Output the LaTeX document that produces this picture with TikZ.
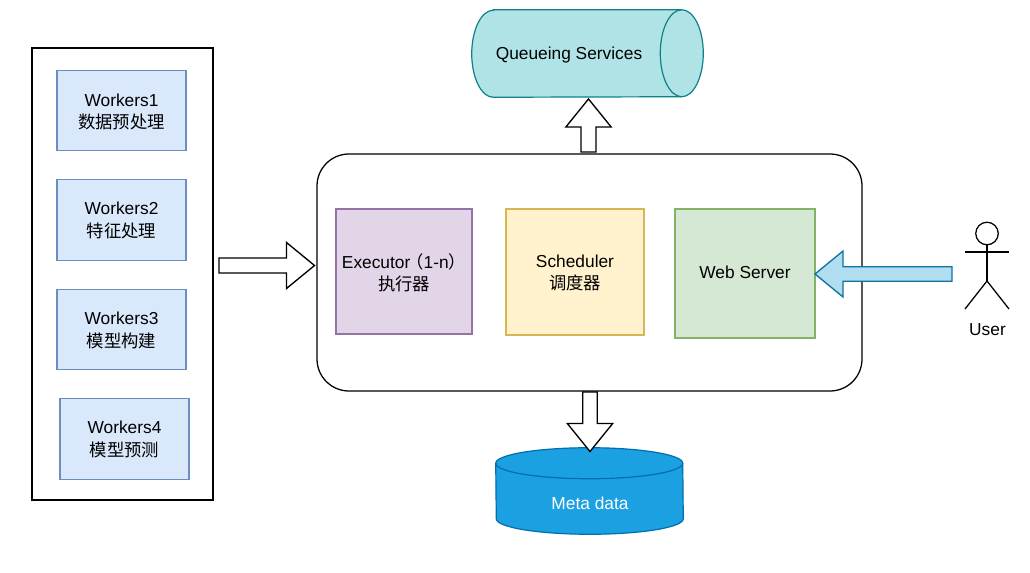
\documentclass[tikz,border=0pt]{standalone}
\usepackage{fontspec}
\setmainfont{Liberation Sans}
\newfontfamily\cjk{Noto Sans CJK SC}
\usetikzlibrary{calc}
\definecolor{wf}{HTML}{DAE8FC}\definecolor{ws}{HTML}{6C8EBF}
\definecolor{ef}{HTML}{E1D5E7}\definecolor{es}{HTML}{9673A6}
\definecolor{sf}{HTML}{FFF2CC}\definecolor{ss}{HTML}{D6B656}
\definecolor{gf}{HTML}{D5E8D4}\definecolor{gs}{HTML}{82B366}
\definecolor{qf}{HTML}{B0E3E6}\definecolor{qs}{HTML}{0E8088}
\definecolor{mf}{HTML}{1BA1E2}\definecolor{ms}{HTML}{006EAF}
\definecolor{uf}{HTML}{B1DDF0}\definecolor{us}{HTML}{10739E}
% [style]{from}{to}{half shaft}{half head}{head length}
\newcommand{\blockarrow}[6][]{%
  \coordinate (hb) at ($(#3)!#6!(#2)$);
  \draw[blockline,#1]
    ($(#2)!#4!90:(#3)$) -- ($(hb)!#4!90:(#3)$) --
    ($(hb)!#5!90:(#3)$) -- (#3) --
    ($(hb)!#5!-90:(#3)$) -- ($(hb)!#4!-90:(#3)$) --
    ($(#2)!#4!-90:(#3)$) -- cycle;}
\tikzset{
  x=0.75pt,y=-0.75pt,
  lbl/.style={font=\fontsize{13}{16.9}\selectfont,align=center,text=black,inner sep=0pt},
  box/.style={draw=#1,line width=0.9pt,anchor=center,inner sep=0pt},
  workerbox/.style={box=ws,fill=wf,minimum width=96.75pt,minimum height=60.4pt},
  workerlabel/.style={lbl},
  blockline/.style={draw=black,fill=white,line width=1pt,line join=miter},
  stick/.style={draw=black,line width=0.95pt}
}
\begin{document}
\begin{tikzpicture}
\useasboundingbox (0,0) rectangle (1030,573);
\fill[white] (0,0) rectangle (1030,573);
% worker container
\node[draw=black,line width=0.95pt,minimum width=135.75pt,minimum height=339pt,inner sep=0pt] (workers) at (122.5,274) {};
\node[workerbox] (w1) at (121.5,110.5) {};
\node[workerbox] (w2) at (121.5,220) {};
\node[workerbox] (w3) at (121.5,329.5) {};
\node[workerbox] (w4) at (124.5,439) {};
\node[workerlabel] (w1t) at (121.5,112) {Workers1\\{\cjk 数据预处理}};
\node[workerlabel] (w2t) at (121.5,220.5) {Workers2\\{\cjk 特征处理}};
\node[workerlabel] (w3t) at (121.5,330.5) {Workers3\\{\cjk 模型构建}};
\node[workerlabel] (w4t) at (124.5,439.5) {Workers4\\{\cjk 模型预测}};
% main box
\node[draw=black,line width=0.95pt,fill=white,rounded corners=24pt,minimum width=408.75pt,minimum height=177.75pt,inner sep=0pt] (main) at (589.5,272.5) {};
\node[box=es,fill=ef,minimum width=102pt,minimum height=93.75pt] (exec) at (404,271.5) {};
\node[lbl] (execlabel) at (404,273) {Executor\kern-3pt{\cjk （}1-n{\cjk ）}\hspace{3pt}\\{\cjk 执行器}};
\node[box=ss,fill=sf,minimum width=103.5pt,minimum height=94.5pt] (sched) at (575,272) {};
\node[lbl] (schedlabel) at (575,273) {Scheduler\\{\cjk 调度器}};
\node[box=gs,fill=gf,minimum width=105pt,minimum height=96.75pt] (web) at (745,273.5) {};
\node[lbl] (weblabel) at (745,272.5) {Web Server};
% queue cylinder
\node[minimum width=173.25pt,minimum height=65.25pt,inner sep=0pt] (queue) at (587.5,53.5) {};
\path[draw=qs,fill=qf,line width=0.9pt]
  ([xshift=21.5*0.75pt]queue.north west) -- ([xshift=-21.5*0.75pt]queue.north east)
  arc[start angle=90,end angle=-90,x radius=21.5*0.75pt,y radius=43.5*0.75pt]
  -- ([xshift=21.5*0.75pt]queue.south west)
  arc[start angle=-90,end angle=-270,x radius=21.5*0.75pt,y radius=43.5*0.75pt] -- cycle;
\draw[draw=qs,line width=0.9pt] ([xshift=-21.5*0.75pt]queue.north east)
  arc[start angle=90,end angle=270,x radius=21.5*0.75pt,y radius=43.5*0.75pt];
\node[lbl] (queuelabel) at (569,55) {Queueing Services};
% meta data cylinder
\node[minimum width=140.25pt,minimum height=64.5pt,inner sep=0pt] (meta) at (589.5,491) {};
\path[draw=ms,fill=mf,line width=0.9pt]
  ([yshift=-15.5*0.75pt]meta.north west) arc[start angle=180,end angle=0,x radius=93.5*0.75pt,y radius=15.5*0.75pt]
  -- ([yshift=15.5*0.75pt]meta.south east) arc[start angle=0,end angle=-180,x radius=93.5*0.75pt,y radius=15.5*0.75pt] -- cycle;
\draw[draw=ms,line width=0.9pt] ([yshift=-15.5*0.75pt]meta.north west)
  arc[start angle=180,end angle=360,x radius=93.5*0.75pt,y radius=15.5*0.75pt];
\node[lbl,text=white] (metalabel) at (590,503) {Meta data};
% actor
\node[draw=black,line width=0.95pt,circle,minimum size=16.9pt,inner sep=0pt] (head) at (987,233.5) {};
\coordinate (hip) at (987,281);
\coordinate (armL) at (965,252);
\coordinate (armR) at (1009,252);
\coordinate (legL) at (965,309);
\coordinate (legR) at (1009,309);
\draw[stick] (head.south) -- (hip);
\draw[stick] (armL) -- (armR);
\draw[stick] (legL) -- (hip) -- (legR);
\node[lbl] (userlabel) at (987.5,330) {User};
% block arrows
\coordinate (a1s) at (219,265.5);
\coordinate (a1e) at (314.5,265.5);
\blockarrow{a1s}{a1e}{5.6pt}{17.25pt}{21pt}
\coordinate (a2s) at (588.5,152);
\coordinate (a2e) at (588.5,99);
\blockarrow{a2s}{a2e}{5.6pt}{17pt}{21pt}
\coordinate (a3s) at (590,392);
\coordinate (a3e) at (590,451.5);
\blockarrow{a3s}{a3e}{5.4pt}{17pt}{21pt}
\coordinate (a4s) at (952,274);
\coordinate (a4e) at (815,274);
\blockarrow[draw=us,fill=uf]{a4s}{a4e}{5.4pt}{17.25pt}{21pt}
\end{tikzpicture}
\end{document}
